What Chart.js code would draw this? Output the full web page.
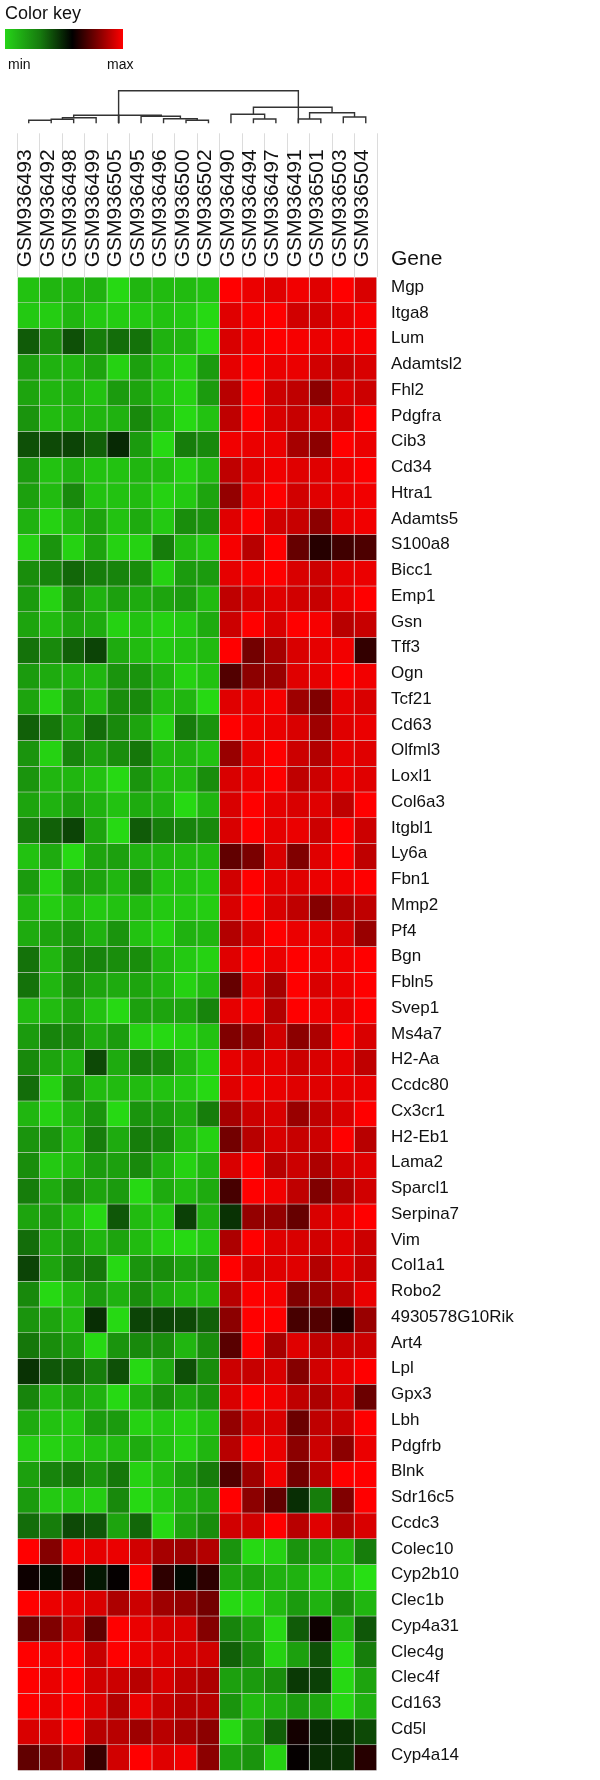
<!DOCTYPE html>
<html>
<head>
<meta charset="utf-8">
<script src="https://cdn.jsdelivr.net/npm/chart.js@4"></script>
<style>
  body { margin: 0; background: #fff; font-family: "Liberation Sans", Arial, sans-serif; color: #111; }
  .wrap { position: relative; width: 600px; height: 1780px; }
  .note { position: absolute; line-height: 1; white-space: nowrap; }
  #keyBar {
    position: absolute; left: 5px; top: 29px; width: 118px; height: 20px;
    background: linear-gradient(to right, #26d418 0%, #167a0e 30%, #000 57%, #7a0000 78%, #ff0000 100%);
  }
</style>
</head>
<body>
<div class="wrap">
  <canvas id="heat" width="600" height="1780"></canvas>
  <div class="note" style="left:5px;top:4px;font-size:18px;">Color key</div>
  <div id="keyBar"></div>
  <div class="note" style="left:8px;top:57px;font-size:14px;">min</div>
  <div class="note" style="left:107px;top:57px;font-size:14px;">max</div>
  <div class="note" style="left:391px;top:247px;font-size:21px;">Gene</div>
</div>
<script>
// Heatmap of gene expression, green = min, black = mid, red = max

const samples = [
  'GSM936493', 'GSM936492', 'GSM936498', 'GSM936499', 'GSM936505', 'GSM936495',
  'GSM936496', 'GSM936500', 'GSM936502', 'GSM936490', 'GSM936494', 'GSM936497',
  'GSM936491', 'GSM936501', 'GSM936503', 'GSM936504',
];

const genes = [
  'Mgp', 'Itga8', 'Lum', 'Adamtsl2', 'Fhl2', 'Pdgfra', 'Cib3', 'Cd34', 'Htra1', 'Adamts5',
  'S100a8', 'Bicc1', 'Emp1', 'Gsn', 'Tff3', 'Ogn', 'Tcf21', 'Cd63', 'Olfml3', 'Loxl1',
  'Col6a3', 'Itgbl1', 'Ly6a', 'Fbn1', 'Mmp2', 'Pf4', 'Bgn', 'Fbln5', 'Svep1', 'Ms4a7',
  'H2-Aa', 'Ccdc80', 'Cx3cr1', 'H2-Eb1', 'Lama2', 'Sparcl1', 'Serpina7', 'Vim', 'Col1a1', 'Robo2',
  '4930578G10Rik', 'Art4', 'Lpl', 'Gpx3', 'Lbh', 'Pdgfrb', 'Blnk', 'Sdr16c5', 'Ccdc3', 'Colec10',
  'Cyp2b10', 'Clec1b', 'Cyp4a31', 'Clec4g', 'Clec4f', 'Cd163', 'Cd5l', 'Cyp4a14',
];

// scaled expression, -1 (min) .. 1 (max), one row per gene, one value per sample
const expression = [
  [-0.85,-0.8,-0.8,-0.78,-0.95,-0.8,-0.82,-0.82,-0.85, 1,0.92,0.88,0.95,0.88,1,0.85],
  [-0.88,-0.9,-0.8,-0.88,-0.9,-0.88,-0.85,-0.88,-0.95, 0.88,0.97,1,0.82,0.82,0.9,0.97],
  [-0.4,-0.62,-0.35,-0.55,-0.48,-0.5,-0.78,-0.8,-0.95, 0.85,0.95,1,0.97,0.92,0.95,0.97],
  [-0.7,-0.78,-0.8,-0.72,-0.92,-0.7,-0.85,-0.92,-0.68, 0.9,1,0.92,0.92,0.82,0.78,0.85],
  [-0.72,-0.8,-0.78,-0.85,-0.68,-0.72,-0.85,-0.92,-0.68, 0.72,1,0.8,0.75,0.55,0.85,0.8],
  [-0.65,-0.82,-0.8,-0.8,-0.78,-0.6,-0.8,-0.95,-0.85, 0.75,1,0.85,0.78,0.85,0.8,1],
  [-0.35,-0.32,-0.3,-0.42,-0.18,-0.68,-0.95,-0.55,-0.6, 0.95,0.92,0.92,0.65,0.55,1,0.92],
  [-0.68,-0.85,-0.78,-0.85,-0.85,-0.8,-0.82,-0.92,-0.82, 0.75,0.88,0.95,0.88,0.88,0.92,1],
  [-0.7,-0.82,-0.6,-0.85,-0.85,-0.82,-0.92,-0.88,-0.72, 0.58,0.92,1,0.82,0.88,0.92,0.95],
  [-0.78,-0.92,-0.8,-0.72,-0.85,-0.75,-0.88,-0.62,-0.65, 0.88,1,0.82,0.78,0.55,0.9,0.95],
  [-0.92,-0.65,-0.92,-0.72,-0.92,-0.92,-0.55,-0.82,-0.88, 0.97,0.72,1,0.4,0.15,0.25,0.3],
  [-0.62,-0.58,-0.45,-0.55,-0.58,-0.62,-0.92,-0.68,-0.68, 0.9,0.97,1,0.85,0.8,0.9,0.92],
  [-0.68,-0.92,-0.62,-0.78,-0.7,-0.75,-0.72,-0.68,-0.82, 0.75,0.82,0.88,0.82,0.78,0.9,1],
  [-0.72,-0.82,-0.72,-0.75,-0.92,-0.85,-0.92,-0.88,-0.75, 0.8,1,0.85,1,0.97,0.72,0.78],
  [-0.5,-0.6,-0.42,-0.3,-0.75,-0.82,-0.88,-0.85,-0.82, 1,0.45,0.65,0.85,0.9,0.95,0.2],
  [-0.68,-0.75,-0.78,-0.8,-0.65,-0.65,-0.78,-0.92,-0.85, 0.32,0.55,0.6,0.88,0.9,1,0.95],
  [-0.72,-0.92,-0.68,-0.82,-0.62,-0.6,-0.82,-0.8,-0.95, 0.88,0.92,0.97,0.62,0.5,0.9,0.85],
  [-0.42,-0.52,-0.7,-0.48,-0.6,-0.72,-0.92,-0.55,-0.65, 1,0.95,0.92,0.85,0.62,0.88,0.92],
  [-0.65,-0.92,-0.58,-0.7,-0.62,-0.52,-0.8,-0.8,-0.85, 0.6,0.9,1,0.8,0.7,0.9,0.88],
  [-0.65,-0.8,-0.8,-0.85,-0.95,-0.65,-0.82,-0.82,-0.62, 0.85,0.92,1,0.75,0.8,0.92,0.88],
  [-0.72,-0.78,-0.7,-0.78,-0.85,-0.75,-0.78,-0.95,-0.8, 0.85,1,0.9,0.85,0.88,0.75,1],
  [-0.55,-0.42,-0.3,-0.72,-0.95,-0.4,-0.55,-0.58,-0.6, 0.85,1,0.9,0.92,0.8,1,0.8],
  [-0.85,-0.75,-0.95,-0.72,-0.7,-0.78,-0.8,-0.82,-0.82, 0.38,0.48,0.85,0.5,0.88,1,0.75],
  [-0.68,-0.92,-0.68,-0.72,-0.8,-0.62,-0.85,-0.85,-0.88, 0.82,1,0.9,0.88,0.92,0.95,1],
  [-0.8,-0.9,-0.82,-0.88,-0.85,-0.82,-0.88,-0.88,-0.9, 0.85,1,0.85,0.75,0.52,0.68,0.75],
  [-0.75,-0.72,-0.65,-0.78,-0.65,-0.85,-0.92,-0.78,-0.8, 0.7,0.85,1,0.92,0.9,0.85,0.6],
  [-0.5,-0.8,-0.6,-0.58,-0.62,-0.62,-0.8,-0.88,-0.92, 0.88,1,0.92,1,0.95,0.95,1],
  [-0.5,-0.8,-0.62,-0.72,-0.75,-0.72,-0.8,-0.92,-0.82, 0.4,0.88,0.65,1,0.85,0.92,1],
  [-0.82,-0.82,-0.72,-0.85,-0.95,-0.7,-0.72,-0.72,-0.58, 0.9,0.97,0.7,1,0.95,0.9,1],
  [-0.68,-0.58,-0.6,-0.75,-0.68,-0.92,-0.95,-0.92,-0.85, 0.5,0.6,0.82,0.55,0.68,1,0.85],
  [-0.6,-0.72,-0.78,-0.32,-0.75,-0.55,-0.6,-0.8,-0.92, 0.9,0.88,0.9,0.8,0.85,0.9,0.75],
  [-0.48,-0.92,-0.62,-0.82,-0.82,-0.82,-0.85,-0.88,-0.95, 0.88,0.95,0.92,0.88,0.88,0.9,0.92],
  [-0.8,-0.92,-0.78,-0.65,-0.95,-0.65,-0.68,-0.75,-0.55, 0.65,0.8,0.85,0.6,0.75,0.85,1],
  [-0.65,-0.65,-0.82,-0.55,-0.75,-0.55,-0.58,-0.82,-0.92, 0.45,0.72,0.85,0.78,0.8,1,0.72],
  [-0.62,-0.88,-0.82,-0.68,-0.7,-0.6,-0.78,-0.92,-0.8, 0.85,1,0.72,0.8,0.68,0.82,0.88],
  [-0.55,-0.75,-0.62,-0.72,-0.68,-0.95,-0.75,-0.82,-0.75, 0.28,1,0.95,0.75,0.5,0.68,0.82],
  [-0.72,-0.7,-0.82,-0.95,-0.38,-0.82,-0.88,-0.28,-0.78, -0.22,0.58,0.58,0.4,0.85,0.9,1],
  [-0.48,-0.75,-0.68,-0.8,-0.72,-0.82,-0.92,-0.95,-0.88, 0.68,1,0.88,0.85,0.82,0.88,0.8],
  [-0.3,-0.72,-0.58,-0.52,-0.95,-0.65,-0.62,-0.7,-0.68, 1,0.85,0.88,0.88,0.7,0.88,0.78],
  [-0.6,-0.95,-0.82,-0.68,-0.78,-0.62,-0.75,-0.82,-0.82, 0.72,1,0.97,0.5,0.6,0.72,0.92],
  [-0.65,-0.72,-0.82,-0.2,-0.95,-0.3,-0.3,-0.32,-0.42, 0.55,1,1,0.28,0.32,0.12,0.6],
  [-0.52,-0.62,-0.7,-0.95,-0.65,-0.6,-0.62,-0.8,-0.62, 0.35,1,0.65,0.88,0.75,0.78,0.8],
  [-0.22,-0.38,-0.42,-0.55,-0.35,-0.95,-0.75,-0.35,-0.62, 0.8,0.78,0.85,0.52,0.82,0.9,1],
  [-0.58,-0.8,-0.72,-0.78,-0.95,-0.75,-0.62,-0.75,-0.65, 0.85,1,0.95,0.75,0.68,0.82,0.42],
  [-0.75,-0.85,-0.88,-0.68,-0.68,-0.92,-0.88,-0.92,-0.85, 0.58,0.82,0.85,0.42,0.75,0.78,1],
  [-0.9,-0.92,-0.88,-0.85,-0.82,-0.75,-0.85,-0.92,-0.8, 0.72,1,0.92,0.55,0.8,0.55,0.92],
  [-0.7,-0.58,-0.52,-0.65,-0.52,-0.92,-0.82,-0.68,-0.55, 0.32,0.62,0.95,0.45,0.72,1,1],
  [-0.68,-0.88,-0.88,-0.9,-0.6,-0.95,-0.88,-0.78,-0.72, 1,0.55,0.38,-0.2,-0.55,0.5,1],
  [-0.48,-0.55,-0.32,-0.38,-0.72,-0.45,-0.95,-0.72,-0.62, 0.82,0.82,1,0.72,0.88,0.7,0.85],
  [1,0.52,0.95,0.9,0.92,0.82,0.65,0.62,0.7, -0.65,-0.95,-0.92,-0.65,-0.7,-0.82,-0.55],
  [0.05,-0.06,0.18,-0.1,0.02,1,0.18,-0.04,0.18, -0.72,-0.7,-0.78,-0.78,-0.88,-0.85,-0.98],
  [1,0.92,0.9,0.85,0.68,0.8,0.62,0.58,0.45, -0.95,-0.95,-0.82,-0.68,-0.78,-0.62,-0.8],
  [0.42,0.5,0.78,0.38,1,0.92,0.85,0.85,0.52, -0.58,-0.7,-0.95,-0.4,0.05,-0.8,-0.38],
  [1,0.95,1,0.78,1,0.92,0.88,0.85,0.82, -0.42,-0.6,-0.92,-0.7,-0.35,-0.95,-0.55],
  [1,0.92,1,0.82,0.8,0.72,0.85,0.75,0.68, -0.7,-0.68,-0.62,-0.25,-0.28,-0.95,-0.72],
  [1,0.92,1,0.88,0.7,0.92,0.78,0.72,0.72, -0.65,-0.82,-0.78,-0.68,-0.72,-0.95,-0.78],
  [0.85,0.85,1,0.72,0.72,0.62,0.72,0.65,0.55, -0.95,-0.72,-0.42,0.08,-0.18,-0.22,-0.32],
  [0.38,0.52,0.68,0.22,0.82,1,0.88,0.95,0.55, -0.7,-0.65,-0.92,0.02,-0.2,-0.22,0.15],
];

// column dendrogram merges: [left x, right x, height, left child height, right child height]
const dendroMerges = [
  [0, 1, 3, 0, 0],
  [1, 2, 4, 3, 0],
  [1.5, 3, 5.5, 4, 0],
  [2, 4, 8, 5.5, 0],
  [7, 8, 3, 0, 0],
  [6, 7.5, 4.5, 0, 3],
  [5, 6.75, 7, 0, 4.5],
  [4, 5.9, 8, 0, 7],
  [10, 11, 4.3, 0, 0],
  [9, 10.5, 9, 0, 4.3],
  [12, 13, 4.3, 0, 0],
  [14, 15, 6.3, 0, 0],
  [12.5, 14.5, 10.6, 4.3, 6.3],
  [10, 13.5, 16, 9, 10.6],
  [4, 12, 32.6, 0, 0],
];
const dendroMaxHeight = 32.6;

/**
 * Map a scaled value to the green-black-red colour key
 */
function heatColor(v) {
  if (v < 0) {
    const t = Math.min(1, -v);
    return `rgb(${Math.round(40 * t)}, ${Math.round(228 * t)}, ${Math.round(20 * t)})`;
  }
  const t = Math.min(1, v);
  return `rgb(${Math.round(255 * t)}, 0, 0)`;
}

// one floating bar dataset per gene row
const datasets = genes.map((gene, r) => ({
  label: gene,
  data: samples.map(() => [r, r + 1]),
  backgroundColor: expression[r].map(heatColor),
  borderColor: 'rgba(120, 120, 120, 0.25)',
  borderWidth: { top: 0, left: 0, right: 1, bottom: 1 },
  borderSkipped: false,
  grouped: false,
  barPercentage: 1,
  categoryPercentage: 1,
}));

const dendrogram = {
  id: 'dendrogram',
  afterDraw(chart) {
    const x = chart.scales.x;
    const ctx = chart.ctx;
    const base = 123.3;
    const top = 90.7;
    const yOf = h => base - (h / dendroMaxHeight) * (base - top);
    ctx.save();
    ctx.strokeStyle = '#333';
    ctx.lineWidth = 1.4;
    dendroMerges.forEach(([a, b, h, ha, hb]) => {
      ctx.beginPath();
      ctx.moveTo(x.getPixelForValue(a), yOf(ha));
      ctx.lineTo(x.getPixelForValue(a), yOf(h));
      ctx.lineTo(x.getPixelForValue(b), yOf(h));
      ctx.lineTo(x.getPixelForValue(b), yOf(hb));
      ctx.stroke();
    });
    ctx.restore();
  },
};

new Chart(document.getElementById('heat').getContext('2d'), {
  type: 'bar',
  data: { labels: samples, datasets },
  plugins: [dendrogram],
  options: {
    responsive: false,
    animation: false,
    devicePixelRatio: 1,
    layout: { padding: { left: 17.5, right: 0, top: 0, bottom: 9.2 } },
    plugins: { legend: { display: false }, tooltip: { enabled: false } },
    scales: {
      x: {
        position: 'top',
        offset: true,
        afterFit: s => { s.height = 277.3; s.paddingLeft = 0; s.paddingRight = 0; },
        border: { display: false },
        grid: {
          offset: true,
          drawOnChartArea: false,
          tickLength: 144,
          color: '#dcdcdc',
        },
        ticks: {
          autoSkip: false,
          minRotation: 90,
          maxRotation: 90,
          padding: -134,
          labelOffset: 22,
          color: '#111',
          font: { family: 'Liberation Sans, Arial', size: 21 },
        },
      },
      y: {
        type: 'linear',
        position: 'right',
        min: 0,
        max: genes.length,
        reverse: true,
        afterFit: s => { s.width = 223; s.paddingTop = 0; s.paddingBottom = 0; },
        afterBuildTicks: s => { s.ticks = genes.map((g, i) => ({ value: i + 0.5 })); },
        border: { display: false },
        grid: { display: false, drawTicks: false },
        ticks: {
          autoSkip: false,
          padding: 14,
          labelOffset: -3,
          color: '#111',
          font: { family: 'Liberation Sans, Arial', size: 17 },
          callback: v => genes[Math.floor(v)],
        },
      },
    },
  },
});
</script>
</body>
</html>
